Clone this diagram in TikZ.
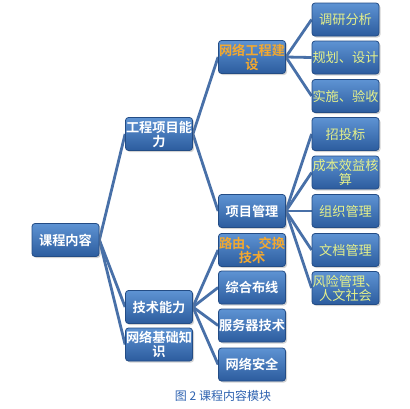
\documentclass[tikz,border=0pt]{standalone}
\usepackage{fontspec}
\newfontfamily\cjk{Noto Sans CJK SC}
\newfontfamily\cjkb{Noto Sans CJK SC Bold}
\usetikzlibrary{shadows,backgrounds}
\definecolor{boxtop}{HTML}{5E93D3}
\definecolor{boxbot}{HTML}{2C5C9E}
\definecolor{boxline}{HTML}{234C85}
\definecolor{linkc}{HTML}{4870A8}
\definecolor{orangetx}{HTML}{F2A830}
\definecolor{yellowtx}{HTML}{E4F08A}
\definecolor{captc}{HTML}{2E62B0}
\tikzset{
  box/.style={draw=boxline, line width=0.8pt, rounded corners=3pt,
    top color=boxtop, bottom color=boxbot, minimum width=67pt, minimum height=33pt,
    inner sep=0pt, align=center, font=\cjkb\fontsize{13.2}{14}\selectfont, text=white,
    drop shadow={shadow xshift=1.5pt, shadow yshift=-1.5pt, opacity=0.35}},
  orangebox/.style={box, text=orangetx},
  leafbox/.style={box, text=yellowtx, font=\cjk\fontsize{13.2}{14}\selectfont},
  link/.style={draw=linkc, line width=2.8pt},
}
\begin{document}
\begin{tikzpicture}[x=1pt,y=-1pt]
\useasboundingbox (0,0) rectangle (410,408);
% nodes
\node[box] (root) at (65.5,240) {课程内容};
\node[box] (gc) at (159,134) {工程项目能\\力};
\node[box] (js) at (159,307) {技术能力};
\node[box] (jc) at (159,344.5) {网络基础知\\识};
\node[orangebox] (wl) at (252,57) {网络工程建\\设};
\node[box] (xm) at (252,211) {项目管理};
\node[orangebox] (ly) at (252,250) {路由、交换\\技术};
\node[box] (zh) at (252,287.5) {综合布线};
\node[box] (fw) at (252,325.5) {服务器技术};
\node[box] (aq) at (252,364.5) {网络安全};
\node[leafbox] (dy) at (345.5,19.5) {调研分析};
\node[leafbox] (gh) at (345.5,57.5) {规划、设计};
\node[leafbox] (ss) at (345.5,96) {实施、验收};
\node[leafbox] (zt) at (345.5,134) {招投标};
\node[leafbox] (cb) at (345.5,172.5) {成本效益核\\算};
\node[leafbox] (zz) at (345.5,211) {组织管理};
\node[leafbox] (wd) at (345.5,250) {文档管理};
\node[leafbox] (fx) at (345.5,288) {风险管理、\\人文社会};
% connectors
\begin{scope}[on background layer]
\foreach \a/\b in {root/gc,root/js,root/jc,gc/wl,gc/xm,wl/dy,wl/gh,wl/ss,xm/zt,xm/cb,xm/zz,xm/wd,xm/fx,js/ly,js/zh,js/fw,js/aq}
  \path[link] (\a.east) -- (\b.west);
\end{scope}
% caption
\node[font=\cjk\fontsize{12}{14}\selectfont, text=captc] (cap) at (223,396) {图 2 课程内容模块};
\end{tikzpicture}
\end{document}
